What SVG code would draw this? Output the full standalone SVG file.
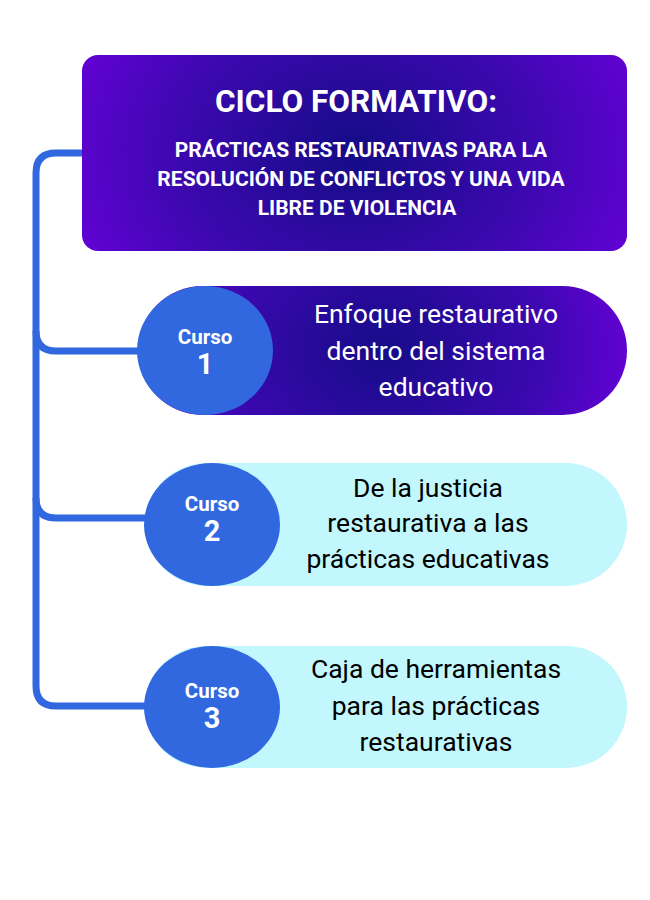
<svg xmlns="http://www.w3.org/2000/svg" width="650" height="900" viewBox="0 0 650 900">
<defs>
<radialGradient id="gHead" cx="50%" cy="50%" r="60%" fx="50%" fy="50%" gradientTransform="translate(0.5 0.5) scale(1 2.2) translate(-0.5 -0.5)">
<stop offset="0" stop-color="#140c86"/>
<stop offset="0.55" stop-color="#3d08b0"/>
<stop offset="1" stop-color="#6a00dc"/>
</radialGradient>
<radialGradient id="gPill" cx="50%" cy="50%" r="55%" gradientTransform="translate(0.5 0.5) scale(1 3) translate(-0.5 -0.5)">
<stop offset="0" stop-color="#160c88"/>
<stop offset="0.6" stop-color="#3c08b0"/>
<stop offset="1" stop-color="#6a00dc"/>
</radialGradient>
<style>
.conn{fill:none;stroke:#3168e0;stroke-width:7;stroke-linecap:butt;stroke-linejoin:round}
.circ{fill:#3168e0}
.light{fill:#c2f7fd}
.curso{font-family:Roboto,"Liberation Sans",sans-serif;font-weight:700;font-size:20.5px;fill:#ffffff;text-anchor:middle}
.num{font-family:Roboto,"Liberation Sans",sans-serif;font-weight:700;font-size:29px;fill:#ffffff;text-anchor:middle}
.desc{font-family:Roboto,"Liberation Sans",sans-serif;font-size:26.5px;text-anchor:middle}
.t1{font-family:Roboto,"Liberation Sans",sans-serif;font-weight:700;font-size:31.5px;fill:#ffffff;text-anchor:middle}
.t2{font-family:Roboto,"Liberation Sans",sans-serif;font-weight:700;font-size:21px;fill:#ffffff;text-anchor:middle}
</style>
</defs>
<rect width="650" height="900" fill="#ffffff"/>
<g id="connectors">
<path class="conn" d="M82 153 H56 Q36 153 36 173 V686 Q36 706 56 706 H150"/>
<path class="conn" d="M36 331 Q36 351 56 351 H142"/>
<path class="conn" d="M36 498 Q36 518 56 518 H150"/>
</g>
<g id="header">
<rect x="82" y="55" width="545" height="196" rx="16" fill="url(#gHead)"/>
<text class="t1" x="356" y="112">CICLO FORMATIVO:</text>
<text class="t2" x="361" y="157">PRÁCTICAS RESTAURATIVAS PARA LA</text>
<text class="t2" x="361" y="186">RESOLUCIÓN DE CONFLICTOS Y UNA VIDA</text>
<text class="t2" x="357" y="215">LIBRE DE VIOLENCIA</text>
</g>
<g id="curso1">
<rect x="138" y="286" width="489" height="129" rx="64.5" fill="url(#gPill)"/>
<ellipse class="circ" cx="205" cy="350.5" rx="68" ry="64.5"/>
<text class="curso" x="205" y="344">Curso</text>
<text class="num" x="205" y="374">1</text>
<text class="desc" x="436" y="323" fill="#ffffff">Enfoque restaurativo</text>
<text class="desc" x="436" y="360" fill="#ffffff">dentro del sistema</text>
<text class="desc" x="436" y="396" fill="#ffffff">educativo</text>
</g>
<g id="curso2">
<rect class="light" x="145" y="463" width="482" height="123" rx="61.5"/>
<ellipse class="circ" cx="212" cy="524.5" rx="68" ry="61.5"/>
<text class="curso" x="212" y="511">Curso</text>
<text class="num" x="212" y="541">2</text>
<text class="desc" x="428" y="497" fill="#000000">De la justicia</text>
<text class="desc" x="428" y="532" fill="#000000">restaurativa a las</text>
<text class="desc" x="428" y="568" fill="#000000">prácticas educativas</text>
</g>
<g id="curso3">
<rect class="light" x="145" y="646" width="482" height="122" rx="61"/>
<ellipse class="circ" cx="212" cy="707" rx="68" ry="61"/>
<text class="curso" x="212" y="698">Curso</text>
<text class="num" x="212" y="728">3</text>
<text class="desc" x="436" y="678" fill="#000000">Caja de herramientas</text>
<text class="desc" x="436" y="715" fill="#000000">para las prácticas</text>
<text class="desc" x="436" y="751" fill="#000000">restaurativas</text>
</g>
</svg>
